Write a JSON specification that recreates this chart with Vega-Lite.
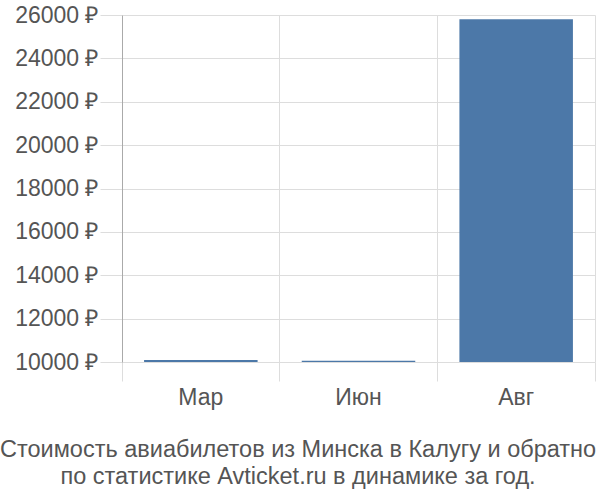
{
  "$schema": "https://vega.github.io/schema/vega-lite/v6.json",
  "autosize": "none",
  "width": 473,
  "height": 347,
  "padding": {"left": 122, "top": 15, "right": 5, "bottom": 138},
  "background": "white",
  "data": {
    "values": [
      {"month": "Мар", "price": 10090},
      {"month": "Июн", "price": 10060},
      {"month": "Авг", "price": 25800}
    ]
  },
  "config": {
    "view": {"stroke": null},
    "font": "Liberation Sans",
    "axis": {
      "labelFont": "Liberation Sans",
      "labelFontSize": 23,
      "labelColor": "#555555",
      "gridColor": "#dddddd",
      "tickColor": "#dddddd",
      "domainColor": "#aaaaaa"
    }
  },
  "title": {
    "text": ["Стоимость авиабилетов из Минска в Калугу и обратно", "по статистике Avticket.ru в динамике за год."],
    "orient": "bottom",
    "anchor": "middle",
    "frame": "bounds",
    "font": "Liberation Sans",
    "fontSize": 23.5,
    "fontWeight": "normal",
    "color": "#555555",
    "lineHeight": 27,
    "offset": 29,
    "dx": -7
  },
  "resolve": {"axis": {"x": "independent"}},
  "layer": [
    {
      "mark": {"type": "bar", "color": "#4c78a8", "width": {"band": 0.72}},
      "encoding": {
        "x": {
          "field": "month",
          "type": "nominal",
          "sort": null,
          "title": null,
          "scale": {"paddingInner": 0, "paddingOuter": 0},
          "axis": {
            "grid": true,
            "bandPosition": 1,
            "tickExtra": true,
            "tickSize": 19,
            "domain": false,
            "labels": false
          }
        },
        "y": {
          "field": "price",
          "type": "quantitative",
          "title": null,
          "scale": {"domain": [10000, 26000], "zero": false, "nice": false},
          "axis": {
            "values": [10000, 12000, 14000, 16000, 18000, 20000, 22000, 24000, 26000],
            "labelExpr": "datum.value + ' ₽'",
            "tickSize": 22,
            "labelPadding": 2,
            "domain": true
          }
        },
        "y2": {"datum": 10000}
      }
    },
    {
      "mark": {"type": "bar", "opacity": 0, "width": {"band": 0.72}},
      "encoding": {
        "x": {
          "field": "month",
          "type": "nominal",
          "sort": null,
          "title": null,
          "axis": {
            "orient": "bottom",
            "grid": false,
            "ticks": false,
            "domain": false,
            "labelAngle": 0,
            "labelPadding": 24
          }
        },
        "y": {"field": "price", "type": "quantitative"},
        "y2": {"datum": 10000}
      }
    }
  ]
}
